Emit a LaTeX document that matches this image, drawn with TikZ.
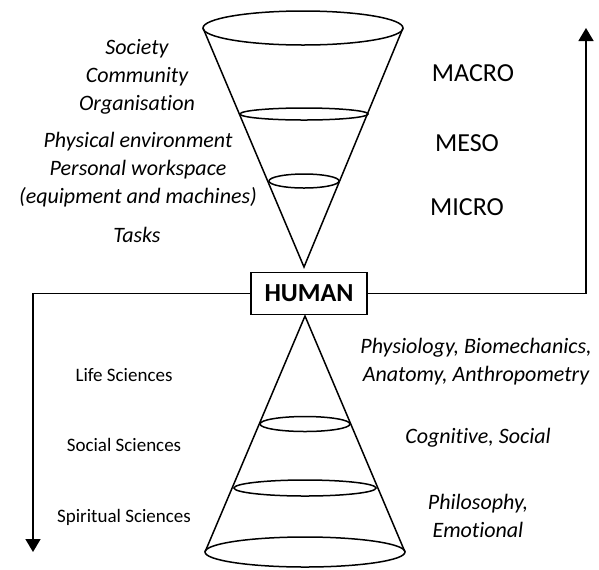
\documentclass[tikz,border=0pt]{standalone}
\usepackage{fontspec}
\setmainfont{Carlito}[Ligatures=NoCommon]
\usepackage{tikz}
\usetikzlibrary{arrows.meta,positioning}

\begin{document}
\begin{tikzpicture}[
  x=0.5pt, y=-0.5pt,
  ln/.style={line width=0.75pt},
  arr/.style={-{Triangle[length=6.5pt, width=7.5pt]}, line width=0.75pt},
  lvl/.style={inner sep=1pt, font=\fontsize{13}{15}\selectfont},
  itl/.style={align=center, inner sep=1pt, font=\fontsize{11}{14}\selectfont\itshape},
  sci/.style={inner sep=1pt, font=\fontsize{9.5}{11}\selectfont},
  hbox/.style={draw, line width=0.75pt, minimum width=58pt, minimum height=21pt,
               inner sep=2pt, font=\fontsize{13}{15}\selectfont\bfseries}
]
\useasboundingbox (0,0) rectangle (599,569);

% upper cone (pointing down)
\draw[ln] (203,28) -- (304,267) -- (403,28);
\draw[ln] (303,28) ellipse [x radius=50pt, y radius=8.5pt];
\draw[ln] (304,114) ellipse [x radius=32pt, y radius=3pt];
\draw[ln] (304,181) ellipse [x radius=17.5pt, y radius=3.5pt];

% lower cone (pointing up)
\draw[ln] (205,552) -- (305,316) -- (405,552);
\draw[ln] (305,424) ellipse [x radius=22.5pt, y radius=3.75pt];
\draw[ln] (305,488) ellipse [x radius=35.5pt, y radius=4pt];
\draw[ln] (305,552) ellipse [x radius=50pt, y radius=7.5pt];

\node[hbox] (human) at (309,293.5) {HUMAN};

\coordinate (down) at (33,552);
\coordinate (up) at (586,28);
\draw[arr] (human) -| (down);
\draw[arr] (human) -| (up);

% labels, upper half
\node[itl] (society) at (137,77) {Society\\Community\\Organisation};
\node[itl] (physical) at (138,170) {Physical environment\\Personal workspace\\(equipment and machines)};
\node[itl] (tasks) at (137,235) {Tasks};

\node[lvl] (macro) at (473,73) {MACRO};
\node[lvl] (meso) at (467,143) {MESO};
\node[lvl] (micro) at (467,207) {MICRO};

% labels, lower half
\node[sci] (life) at (124,375) {Life Sciences};
\node[sci] (social) at (124,445) {Social Sciences};
\node[sci] (spiritual) at (124,517) {Spiritual Sciences};

\node[itl] (physio) at (476,362) {Physiology, Biomechanics,\\Anatomy, Anthropometry};
\node[itl] (cognitive) at (478,438) {Cognitive, Social};
\node[itl] (philo) at (478,516) {Philosophy,\\Emotional};
\end{tikzpicture}
\end{document}
